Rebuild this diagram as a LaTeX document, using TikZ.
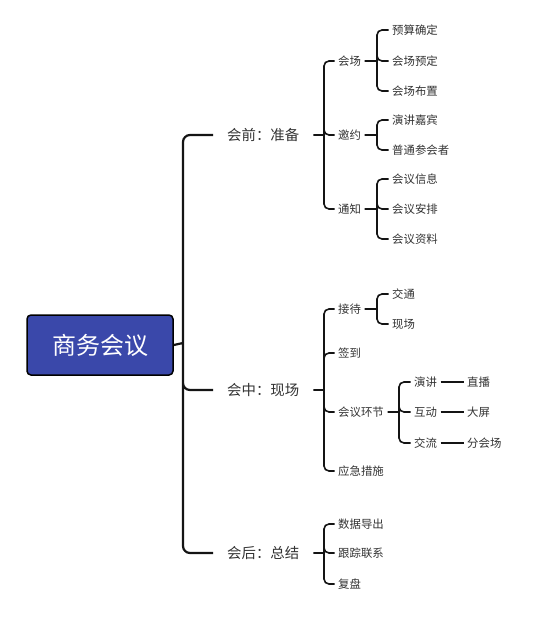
\documentclass[tikz,border=0pt]{standalone}
\usepackage{fontspec}
\setmainfont{Noto Sans CJK SC}
\usetikzlibrary{positioning}
\definecolor{rootblue}{RGB}{58,72,170}
\definecolor{txtgray}{RGB}{51,51,51}
\definecolor{linegray}{RGB}{20,20,20}

\begin{document}
\begin{tikzpicture}[x=1pt,y=-1pt,
  rootstyle/.style={draw=black,line width=1.5pt,rounded corners=4pt,fill=rootblue,text=white,minimum width=146pt,minimum height=60pt,font=\fontsize{24}{28}\selectfont},
  firststyle/.style={anchor=west,inner xsep=14pt,inner ysep=2pt,text=txtgray,font=\fontsize{14.4}{17}\selectfont},
  secondstyle/.style={anchor=west,inner xsep=3.5pt,inner ysep=2pt,text=txtgray,font=\fontsize{11.4}{13}\selectfont},
  link/.style={draw=linegray,line width=1.6pt,rounded corners=5pt},
  trunk/.style={link,line width=2.2pt,rounded corners=7pt}]
\fill[white] (0,0) rectangle (554,634);
\useasboundingbox (0,0) rectangle (554,634);

\node[rootstyle] (root) at (100,345) {商务会议};
\coordinate (j0) at (183,343);
\node[firststyle] (pre) at (213,135) {会前：准备};
\node[firststyle] (mid) at (213,390) {会中：现场};
\node[firststyle] (post) at (213,553) {会后：总结};

\coordinate (jpre) at (324,135);
\node[secondstyle] (venue) at (334.5,61) {会场};
\node[secondstyle] (invite) at (334.5,135) {邀约};
\node[secondstyle] (notice) at (334.5,209) {通知};
\coordinate (jvenue) at (377,61);
\node[secondstyle] (v1) at (388.5,30) {预算确定};
\node[secondstyle] (v2) at (388.5,61) {会场预定};
\node[secondstyle] (v3) at (388.5,91) {会场布置};
\coordinate (jinvite) at (377,135);
\node[secondstyle] (i1) at (388.5,120) {演讲嘉宾};
\node[secondstyle] (i2) at (388.5,150) {普通参会者};
\coordinate (jnotice) at (377,209);
\node[secondstyle] (n1) at (388.5,179) {会议信息};
\node[secondstyle] (n2) at (388.5,209) {会议安排};
\node[secondstyle] (n3) at (388.5,239) {会议资料};

\coordinate (jmid) at (324,390);
\node[secondstyle] (recep) at (334.5,309) {接待};
\node[secondstyle] (signin) at (334.5,353) {签到};
\node[secondstyle] (session) at (334.5,412) {会议环节};
\node[secondstyle] (emerg) at (334.5,471) {应急措施};
\coordinate (jrecep) at (377,309);
\node[secondstyle] (r1) at (388.5,294) {交通};
\node[secondstyle] (r2) at (388.5,324) {现场};
\coordinate (jsession) at (399,412);
\node[secondstyle] (s1) at (410.5,382) {演讲};
\node[secondstyle] (s2) at (410.5,412) {互动};
\node[secondstyle] (s3) at (410.5,443) {交流};
\node[secondstyle] (g1) at (463.5,382) {直播};
\node[secondstyle] (g2) at (463.5,412) {大屏};
\node[secondstyle] (g3) at (463.5,443) {分会场};

\coordinate (jpost) at (324,553);
\node[secondstyle] (p1) at (334.5,524) {数据导出};
\node[secondstyle] (p2) at (334.5,553) {跟踪联系};
\node[secondstyle] (p3) at (334.5,584) {复盘};

\draw[trunk] (root.east) -- (j0) (j0) |- (pre.west) (j0) |- (mid.west) (j0) |- (post.west);
\draw[link] (pre.east) -- (jpre) (jpre) |- (venue.west) (jpre) |- (invite.west) (jpre) |- (notice.west);
\draw[link] (venue.east) -- (jvenue) (jvenue) |- (v1.west) (jvenue) |- (v2.west) (jvenue) |- (v3.west);
\draw[link] (invite.east) -- (jinvite) (jinvite) |- (i1.west) (jinvite) |- (i2.west);
\draw[link] (notice.east) -- (jnotice) (jnotice) |- (n1.west) (jnotice) |- (n2.west) (jnotice) |- (n3.west);
\draw[link] (mid.east) -- (jmid) (jmid) |- (recep.west) (jmid) |- (signin.west) (jmid) |- (session.west) (jmid) |- (emerg.west);
\draw[link] (recep.east) -- (jrecep) (jrecep) |- (r1.west) (jrecep) |- (r2.west);
\draw[link] (session.east) -- (jsession) (jsession) |- (s1.west) (jsession) |- (s2.west) (jsession) |- (s3.west);
\draw[link] (s1) -- (g1) (s2) -- (g2) (s3) -- (g3);
\draw[link] (post.east) -- (jpost) (jpost) |- (p1.west) (jpost) |- (p2.west) (jpost) |- (p3.west);
\end{tikzpicture}
\end{document}
